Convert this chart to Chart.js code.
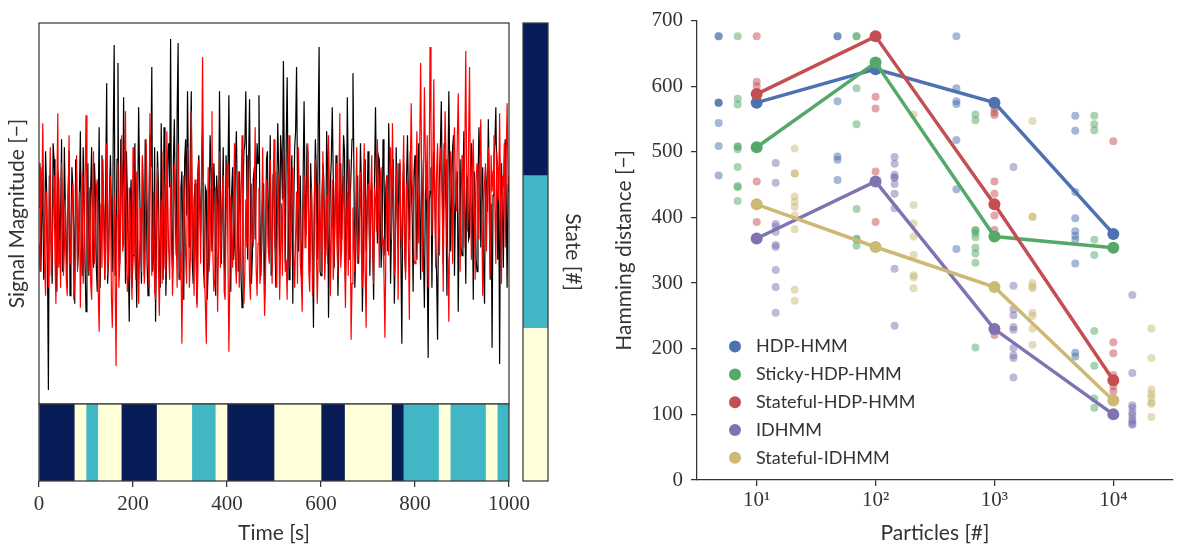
<!DOCTYPE html>
<html>
<head>
<meta charset="utf-8">
<script src="https://cdn.jsdelivr.net/npm/chart.js@4"></script>
<style>
body { margin: 0; background: #fff; }
#wrap { position: relative; width: 1179px; height: 552px; overflow: hidden; }
canvas { position: absolute; }
</style>
</head>
<body>
<div id="wrap">
<canvas id="signal" style="left:0px;top:0px" width="520" height="406"></canvas>
<canvas id="strip" style="left:0px;top:400px" width="540" height="152"></canvas>
<canvas id="colorbar" style="left:515px;top:0px" width="90" height="552"></canvas>
<canvas id="hamming" style="left:600px;top:0px" width="579" height="552"></canvas>
</div>
<script>
// signal samples, one every 2 s from 0 to 1000 s
var sampleStep = 2;
var blackSignal = [
	0.4,1.5,-1.2,0.2,1.1,-1.4,-0.6,1.8,0.9,-0.9,-4.15,1.2,0.7,-0.6,-1.5,2.0,1.6,0.5,-0.3,-1.7,1.3,1.1,-1.0,0.3,2.1,-1.2,-0.8,1.9,0.5,-0.5,-1.6,0.8,1.8,-1.8,-0.4,1.4,0.9,-0.2,-2.0,1.6,1.2,-1.1,-0.7,0.7,2.3,-0.4,-1.3,1.9,0.6,-1.0,
	-2.2,0.6,1.5,-1.3,-0.5,0.9,1.9,-0.7,-1.1,1.5,0.8,-1.1,-1.7,0.4,2.4,-1.6,-0.2,1.7,1.0,0.2,-1.4,1.2,3.5,-1.5,-0.9,0.8,1.7,0.3,-1.2,2.2,4.45,-1.3,-0.6,1.6,4.0,-0.8,-1.0,2.1,1.4,-0.4,3.15,0.9,-1.5,1.8,0.7,-0.9,-2.45,0.5,1.1,-1.6,
	-0.8,1.3,2.0,-0.6,-2.1,0.4,2.9,1.1,-0.4,-1.5,1.6,0.7,-1.3,2.1,0.9,-1.0,-1.8,0.6,2.2,1.4,3.9,-1.2,-0.7,1.9,-2.45,-0.3,1.8,1.0,-0.9,-1.6,2.5,0.5,-1.4,2.4,1.2,-1.8,-0.5,1.7,2.0,0.9,4.6,-0.5,-1.1,1.6,2.6,0.4,-0.8,2.8,4.5,-1.4,
	-1.2,0.9,1.3,-0.4,-1.9,1.6,2.1,0.2,3.3,1.1,-0.6,1.8,3.3,-0.9,-1.5,0.6,1.0,-0.7,-2.0,1.3,1.7,0.5,-0.3,1.5,2.4,-1.1,-1.6,0.9,0.8,-1.9,-1.1,0.3,2.2,1.4,-0.7,-0.2,1.5,0.8,-1.8,1.2,0.6,-0.6,3.3,1.0,-1.0,0.4,1.9,-1.0,-1.4,1.7,
	0.9,1.2,3.2,0.4,-1.7,0.8,1.4,-0.9,-0.5,1.6,2.3,0.5,-1.2,1.3,0.7,-1.4,-2.1,0.7,1.8,2.0,3.3,1.1,-0.9,1.6,3.1,0.2,-1.5,-0.8,1.1,1.4,-0.4,0.9,2.0,1.5,3.2,0.3,-1.3,-0.5,0.8,1.0,-1.9,-0.7,1.6,1.8,-0.6,0.6,2.2,-1.3,-1.1,1.2,
	1.3,-0.5,-1.6,0.9,2.5,1.3,-0.8,2.2,1.7,0.6,4.05,1.4,-1.0,2.0,3.65,0.8,-1.4,-0.6,0.9,1.7,-2.0,0.4,1.9,2.3,3.9,1.0,-0.7,0.5,1.2,-0.9,-1.5,1.2,3.05,0.7,-0.3,1.9,1.8,-0.4,-1.2,1.5,0.6,-0.8,-2.6,0.6,2.1,1.3,-0.9,2.4,4.4,-1.2,
	-1.3,0.7,1.5,1.1,-0.6,-0.8,2.3,1.4,-2.35,-0.3,1.0,1.6,2.9,1.2,-1.1,0.4,1.7,0.9,-1.8,-0.5,0.8,1.5,-0.4,0.8,2.2,1.8,-1.4,-0.2,3.15,1.0,-0.9,0.6,1.3,2.1,3.75,1.3,-1.6,-0.7,0.5,1.2,-1.0,0.3,2.0,0.9,-2.2,-0.9,1.4,1.6,-0.7,0.2,
	1.8,0.5,-1.3,0.8,0.9,-0.6,-1.9,1.2,2.9,1.0,-0.5,1.7,1.6,0.3,-1.1,-0.4,2.1,1.4,-0.8,0.9,1.2,-0.7,2.5,1.3,-1.5,-0.2,0.7,1.6,-2.0,-0.8,1.9,0.4,-0.6,1.5,1.1,-0.9,-3.0,0.7,1.5,-0.5,-1.2,1.1,2.2,0.6,-0.4,1.8,1.0,0.2,-1.7,1.3,
	1.7,0.4,-0.9,1.1,2.0,0.3,-1.4,1.6,0.6,-0.8,-2.1,0.7,1.3,-1.0,-3.35,0.5,0.8,1.4,-1.6,0.6,1.8,1.0,-0.5,-1.3,-2.9,0.2,1.2,1.9,3.05,0.8,-1.0,2.0,1.5,0.3,-1.8,1.1,3.3,1.2,-0.7,0.8,1.9,2.2,-1.3,0.4,0.9,1.3,-2.2,0.1,1.6,-0.6,
	-0.8,1.0,2.3,0.5,-1.5,1.2,1.1,-0.4,-0.3,1.5,2.0,0.6,-1.9,1.3,0.7,-0.9,-1.2,0.9,2.4,1.6,-0.6,0.8,1.4,-1.2,-2.0,1.4,1.0,0.3,2.6,1.1,-1.4,0.5,-3.1,0.7,1.7,2.0,2.9,1.0,-0.9,1.4,-3.5,0.6,1.5,0.2,-1.1,1.5,2.1,0.8,-1.6,1.0,
	0.8
];
var redSignal = [
	-0.5,-1.2,1.4,0.3,2.5,0.6,-1.1,-1.8,0.8,-0.4,-1.6,0.7,1.9,-1.3,-0.7,0.4,1.2,-0.9,-2.0,0.8,2.75,-1.1,-0.4,-1.6,1.5,0.2,-1.3,-0.7,0.6,-1.4,-1.8,0.5,2.2,-1.0,-0.9,0.6,1.0,-1.9,-1.5,0.3,1.7,-1.2,-0.2,0.8,-2.1,-0.5,1.3,-1.5,-0.8,0.9,
	2.7,0.4,-1.2,-0.3,0.9,-1.5,-1.9,0.2,1.8,-1.0,-0.6,0.9,1.1,-1.7,-2.7,-0.6,0.5,-1.1,1.6,0.3,-1.4,-0.5,2.0,-1.3,-0.8,0.6,1.2,-1.8,-2.6,-0.9,0.7,-1.4,-3.55,0.2,1.5,-1.6,-1.0,0.8,2.2,-0.7,-0.5,1.0,2.8,-0.8,-1.7,-1.3,0.9,0.5,-1.2,-1.9,
	1.9,0.6,-0.9,-1.4,1.3,0.2,-2.0,-0.8,0.4,-1.2,1.7,0.5,-1.5,-0.9,2.1,0.7,-0.6,-1.6,2.75,0.9,-1.3,-0.4,0.8,-1.7,-1.9,0.3,1.4,-1.0,-2.3,-0.6,0.6,-1.5,1.8,0.4,-1.1,-1.2,2.3,0.6,-0.7,-1.4,1.0,0.2,-1.8,-0.9,1.5,0.7,-0.3,-1.6,2.0,-0.5,
	-1.4,-0.7,-3.0,-1.1,1.2,0.4,-0.8,-1.5,1.9,0.3,-1.6,-0.9,2.8,0.6,-0.5,-1.8,1.1,-0.2,-2.1,-1.3,1.6,0.5,-1.0,1.2,4.15,0.8,-1.3,-2.0,-3.0,-0.4,1.4,-1.2,-0.6,0.9,2.8,-0.8,-1.7,-1.4,0.9,0.3,-2.2,-0.6,1.8,-1.1,-0.4,0.7,1.2,-1.7,-1.9,0.2,
	1.5,-0.8,-3.2,-1.4,0.7,-0.3,-1.1,0.5,2.0,-1.0,-1.5,0.4,1.3,-1.6,-0.8,0.9,2.2,-0.7,-2.0,-1.2,0.6,-0.6,1.7,0.2,-1.4,-1.9,1.0,-0.4,-0.5,0.8,2.4,-1.1,-1.8,-0.5,0.9,-1.5,-1.2,0.3,1.9,-0.9,-2.3,-1.3,1.1,0.6,-0.7,-1.0,1.6,-0.2,-1.5,0.7,
	2.1,-0.4,-0.9,-1.6,1.3,0.4,-1.9,-0.7,0.5,-1.3,1.8,0.6,-1.2,-0.9,-1.9,0.3,2.2,-1.1,-0.6,0.9,1.4,-0.8,-1.6,-0.3,0.8,-1.5,1.9,0.5,-1.0,-1.4,-2.2,0.2,1.2,-0.6,-0.4,0.8,2.0,-1.2,-1.7,0.4,0.9,-1.8,-1.1,0.7,1.6,-0.5,-2.0,-0.9,1.0,0.3,
	-0.5,-1.2,1.8,0.4,-1.4,-0.6,0.7,-1.0,2.2,0.8,-1.8,-0.3,1.1,-1.4,-0.8,0.6,1.5,-0.5,-1.3,0.9,2.75,-1.1,-0.6,0.5,1.2,-0.8,-2.1,-0.2,0.8,-1.3,1.6,0.7,-2.9,-1.5,0.4,-0.4,-1.2,0.6,1.9,-1.0,-0.7,0.3,1.3,-0.7,-1.6,0.8,2.0,-1.2,-2.6,0.5,
	1.0,0.3,-0.9,0.8,1.7,-0.6,-1.5,0.9,0.6,-0.2,2.1,0.7,-1.1,1.2,1.4,-0.5,-0.4,-1.3,-2.85,-0.7,1.2,0.6,-0.8,1.3,1.9,-0.4,2.5,0.8,-1.3,-0.9,0.9,1.5,-1.9,0.5,1.6,-0.3,-0.6,1.1,2.2,-0.8,-1.4,0.9,1.1,-0.6,-2.4,1.4,3.0,1.0,0.5,-0.9,
	-1.0,1.1,2.3,0.8,-0.5,1.9,4.0,1.4,-1.2,0.9,3.4,1.7,0.6,2.2,-1.6,1.0,4.4,2.6,-0.3,1.5,3.6,0.7,-1.1,1.3,2.0,-0.2,-0.8,1.9,1.4,0.6,-1.7,1.1,2.8,1.6,-0.5,-0.9,-2.45,0.4,1.8,1.3,-1.0,1.7,2.4,0.9,0.3,2.1,3.25,1.2,-1.2,0.6,
	1.7,0.9,-0.6,1.8,4.3,1.2,-0.2,2.0,3.9,0.8,-0.9,1.4,2.1,0.5,-1.4,1.1,1.5,0.7,-0.4,1.6,2.6,0.3,-1.8,0.6,1.0,1.5,-0.7,0.9,1.9,0.2,-1.3,1.7,0.8,1.3,2.2,0.4,-1.0,1.8,1.4,0.6,2.75,0.8,-1.5,1.2,0.9,2.0,-0.6,1.6,3.0,0.9,
	1.2
];

// inferred state sequence: segment edges in seconds and state of each segment
var stateEdges = [0, 75, 100, 125, 175, 250, 325, 375, 400, 500, 600, 650, 750, 775, 850, 875, 950, 975, 1000];
var stateSeq = [2, 0, 1, 0, 2, 0, 1, 0, 2, 0, 2, 0, 2, 1, 0, 1, 0, 1];
var stateColors = ['#ffffd9', '#41b6c4', '#081d58'];

// Hamming distance against number of particles
var particleCounts = [10, 100, 1000, 10000];
var methods = ['HDP-HMM', 'Sticky-HDP-HMM', 'Stateful-HDP-HMM', 'IDHMM', 'Stateful-IDHMM'];
var methodColors = ['#4c72b0', '#55a868', '#c44e52', '#8172b2', '#ccb974'];
var methodAlpha = ['rgba(76,114,176,0.5)', 'rgba(85,168,104,0.5)', 'rgba(196,78,82,0.5)', 'rgba(129,114,178,0.5)', 'rgba(204,185,116,0.5)'];
// runs are spread sideways by a fixed fraction of a decade per method
var runOffsets = [-0.32, -0.16, 0, 0.16, 0.32];

var hdpMean = [575, 626, 575, 375];
var stickyMean = [507, 636, 371, 354];
var statefulMean = [588, 676, 420, 152];
var idhmmMean = [368, 455, 230, 100];
var statefulIdhmmMean = [420, 355, 294, 121];

var hdpRuns = [
	[676, 676, 575, 575, 575, 544, 509, 464],
	[676, 676, 577, 493, 488, 457],
	[676, 597, 577, 573, 518, 443, 352],
	[555, 532, 439, 399, 379, 372, 366, 330, 194, 188]
];
var stickyRuns = [
	[676, 581, 572, 508, 508, 504, 477, 448, 446, 425],
	[676, 676, 597, 542, 413, 368, 366, 357],
	[557, 548, 381, 380, 376, 370, 354, 345, 331, 202],
	[555, 542, 533, 366, 343, 227, 174, 124, 110]
];
var statefulRuns = [
	[676, 607, 600, 590, 455, 393],
	[676, 584, 566, 470, 393],
	[566, 560, 556, 455, 436, 403, 381, 221],
	[516, 210, 193, 160, 152, 143, 135]
];
var idhmmRuns = [
	[483, 453, 390, 386, 378, 358, 355, 320, 294, 255],
	[492, 482, 465, 461, 461, 451, 436, 414, 322, 235],
	[477, 296, 260, 251, 233, 229, 201, 190, 186, 156],
	[282, 163, 114, 110, 103, 99, 93, 90, 86, 84]
];
var statefulIdhmmRuns = [
	[505, 467, 467, 432, 424, 416, 403, 382, 290, 273],
	[557, 419, 391, 371, 343, 312, 309, 292],
	[547, 401, 401, 300, 295, 292, 255, 250, 231, 206],
	[231, 186, 138, 131, 126, 118, 116, 96]
];

var allMeans = [hdpMean, stickyMean, statefulMean, idhmmMean, statefulIdhmmMean];
var allRuns = [hdpRuns, stickyRuns, statefulRuns, idhmmRuns, statefulIdhmmRuns];

Chart.defaults.font.family = "'Liberation Serif', serif";
Chart.defaults.color = '#333';
Chart.defaults.animation = false;
Chart.defaults.responsive = false;
Chart.defaults.plugins.legend.display = false;
Chart.defaults.plugins.tooltip.enabled = false;

var sansTitle = { family: 'Lato', size: 21 };
var tickFont = { size: 21 };

// box round the plotting area
var frame = {
	id: 'frame',
	afterDatasetsDraw: function(chart) {
		var ctx = chart.ctx, a = chart.chartArea;
		ctx.save();
		ctx.strokeStyle = '#3a3a3a';
		ctx.lineWidth = 1.25;
		ctx.strokeRect(a.left, a.top, a.right - a.left, a.bottom - a.top);
		ctx.restore();
	}
};

function fixWidth(w) {
	return function(scale) { scale.width = w; };
}
function fixHeight(h) {
	return function(scale) { scale.height = h; };
}
function toPoints(values) {
	return values.map(function(v, i) { return {x: i * sampleStep, y: v}; });
}

// signal traces
new Chart(document.getElementById('signal'), {
	type: 'scatter',
	data: {
		datasets: [
			{data: toPoints(redSignal), borderColor: '#ff0000', showLine: true, order: 0},
			{data: toPoints(blackSignal), borderColor: '#000000', showLine: true, order: 1}
		]
	},
	options: {
		layout: {padding: {left: 0, top: 23, right: 11, bottom: 2}},
		elements: {point: {radius: 0}, line: {borderWidth: 1.2, tension: 0}},
		scales: {
			x: {type: 'linear', min: 0, max: 1000, display: false},
			y: {
				min: -4.5, max: 5,
				ticks: {display: false},
				grid: {display: false},
				border: {display: false},
				title: {display: true, text: 'Signal Magnitude [−]', font: sansTitle, padding: {top: 5, bottom: 0}},
				afterFit: fixWidth(39)
			}
		}
	},
	plugins: [frame]
});

// state strip under the traces
new Chart(document.getElementById('strip'), {
	type: 'bar',
	data: {
		labels: ['state'],
		datasets: stateSeq.map(function(s, k) {
			return {
				data: [[stateEdges[k], stateEdges[k + 1]]],
				backgroundColor: stateColors[s],
				borderWidth: 0,
				grouped: false,
				barPercentage: 1,
				categoryPercentage: 1
			};
		})
	},
	options: {
		indexAxis: 'y',
		layout: {padding: {left: 39, top: 4, right: 31, bottom: 0}},
		scales: {
			x: {
				type: 'linear', min: 0, max: 1000,
				ticks: {
					stepSize: 200, font: tickFont, padding: 5, maxRotation: 0,
					callback: function(v) { return String(v); }
				},
				grid: {drawOnChartArea: false, tickLength: 6, color: '#333', lineWidth: 1.25},
				border: {display: false},
				title: {display: true, text: 'Time [s]', font: sansTitle, padding: {top: 0, bottom: 6}},
				afterFit: fixHeight(71)
			},
			y: {display: false}
		}
	},
	plugins: [frame]
});

// colour bar of the states
new Chart(document.getElementById('colorbar'), {
	type: 'bar',
	data: {
		labels: ['state'],
		datasets: stateColors.map(function(c) {
			return {data: [1], backgroundColor: c, borderWidth: 0, barPercentage: 1, categoryPercentage: 1};
		})
	},
	options: {
		layout: {padding: {left: 8, top: 23, right: 0, bottom: 71}},
		scales: {
			x: {display: false, stacked: true},
			y: {
				position: 'right', stacked: true, min: 0, max: 3,
				ticks: {display: false},
				grid: {display: false},
				border: {display: false},
				title: {display: true, text: 'State [#]', font: sansTitle, padding: {top: 20, bottom: 0}},
				afterFit: fixWidth(57)
			}
		}
	},
	plugins: [frame]
});

var innerLegend = {
	id: 'innerLegend',
	afterDraw: function(chart) {
		var ctx = chart.ctx, a = chart.chartArea;
		ctx.save();
		ctx.font = '18px Lato';
		ctx.textBaseline = 'middle';
		methods.forEach(function(name, k) {
			var y = a.top + 326 + k * 27.8;
			ctx.fillStyle = methodColors[k];
			ctx.beginPath();
			ctx.arc(a.left + 38, y, 6, 0, 2 * Math.PI);
			ctx.fill();
			ctx.fillStyle = '#333';
			ctx.fillText(name, a.left + 59, y);
		});
		ctx.restore();
	}
};

var superscripts = {1: '¹', 2: '²', 3: '³', 4: '⁴'};
var hammingSets = [];
methods.forEach(function(name, k) {
	var pts = [];
	allRuns[k].forEach(function(runs, j) {
		runs.forEach(function(v) {
			pts.push({x: particleCounts[j] * Math.pow(10, runOffsets[k]), y: v});
		});
	});
	hammingSets.push({
		data: pts,
		backgroundColor: methodAlpha[k],
		borderWidth: 0,
		pointRadius: 4,
		order: 100 + k
	});
	hammingSets.push({
		label: name,
		data: particleCounts.map(function(p, j) { return {x: p, y: allMeans[k][j]}; }),
		showLine: true,
		borderColor: methodColors[k],
		backgroundColor: methodColors[k],
		borderWidth: 3.5,
		pointRadius: 6,
		pointBorderWidth: 0,
		order: 10 - k
	});
});

new Chart(document.getElementById('hamming'), {
	type: 'scatter',
	data: {datasets: hammingSets},
	options: {
		layout: {padding: {left: 0, top: 14, right: 2, bottom: 0}},
		scales: {
			x: {
				type: 'logarithmic',
				min: Math.pow(10, 0.498),
				max: Math.pow(10, 4.502),
				afterBuildTicks: function(scale) {
					scale.ticks = particleCounts.map(function(v) { return {value: v}; });
				},
				ticks: {
					font: tickFont, padding: 2, maxRotation: 0, autoSkip: false,
					callback: function(v) { return '10' + superscripts[Math.round(Math.log10(v))]; }
				},
				grid: {drawOnChartArea: false, tickLength: 6, color: '#333', lineWidth: 1.25},
				border: {color: '#333', width: 1.25},
				title: {display: true, text: 'Particles [#]', font: sansTitle, padding: {top: 0, bottom: 6}},
				afterFit: fixHeight(72)
			},
			y: {
				min: 0, max: 700,
				ticks: {stepSize: 100, font: tickFont, padding: 8},
				grid: {drawOnChartArea: false, tickLength: 6, color: '#333', lineWidth: 1.25},
				border: {color: '#333', width: 1.25},
				title: {display: true, text: 'Hamming distance [−]', font: sansTitle, padding: {top: 12, bottom: 0}},
				afterFit: fixWidth(97)
			}
		}
	},
	plugins: [innerLegend]
});
</script>
</body>
</html>
